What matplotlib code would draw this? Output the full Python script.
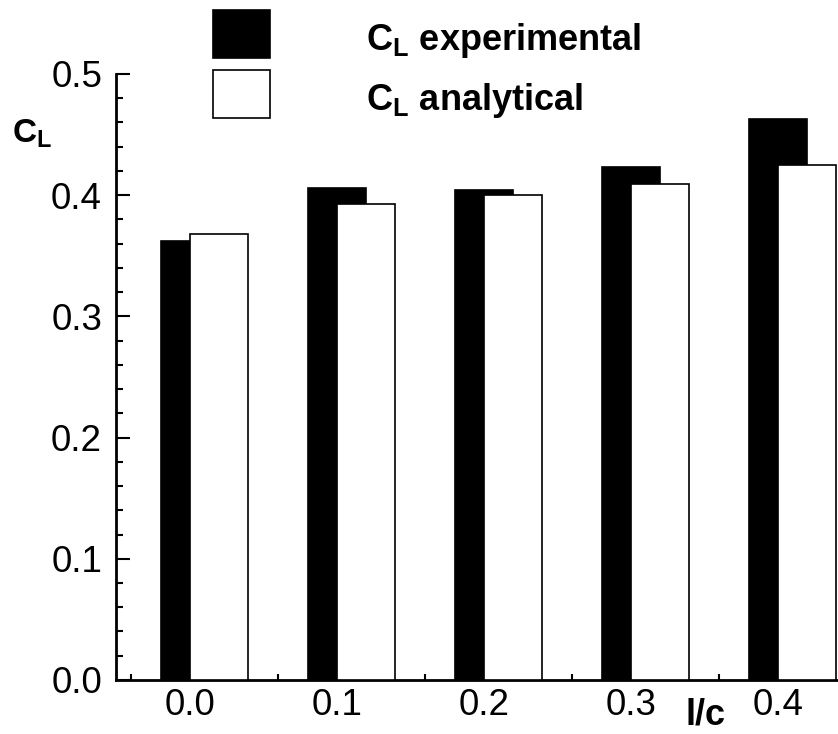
import matplotlib
matplotlib.use('Agg')
import matplotlib.pyplot as plt
from matplotlib.ticker import MultipleLocator, FixedLocator

plt.rcParams['font.family'] = ['Liberation Sans', 'DejaVu Sans']
plt.rcParams['mathtext.fontset'] = 'custom'
plt.rcParams['mathtext.bf'] = 'Liberation Sans:bold'
plt.rcParams['mathtext.rm'] = 'Liberation Sans:bold'

# l/c positions and lift coefficients
lc = [0.0, 0.1, 0.2, 0.3, 0.4]
cl_exp = [0.362, 0.406, 0.404, 0.423, 0.463]
cl_ana = [0.368, 0.393, 0.400, 0.409, 0.425]
lc_minor = [-0.04, 0.06, 0.16, 0.26, 0.36]

w = 0.0395

fig = plt.figure(figsize=(8.38, 7.34), dpi=100)
ax = fig.add_axes([0.1384, 0.0736, 0.8616, 0.8256])

b1 = ax.bar([x - w / 2 for x in lc], cl_exp, width=w, align='edge', color='black',
            edgecolor='black', linewidth=1.2, zorder=2)
b2 = ax.bar(lc, cl_ana, width=w, align='edge', color='white',
            edgecolor='black', linewidth=1.2, zorder=3)

ax.set_xlim(-0.0503, 0.441)
ax.set_ylim(0, 0.5)
for s in ['top', 'right']:
    ax.spines[s].set_visible(False)
for s in ['left', 'bottom']:
    ax.spines[s].set_linewidth(2)

ax.yaxis.set_minor_locator(MultipleLocator(0.02))
ax.set_yticks([0.0, 0.1, 0.2, 0.3, 0.4, 0.5])
ax.set_yticklabels(['0.0', '0.1', '0.2', '0.3', '0.4', '0.5'])
ax.tick_params(axis='y', which='major', direction='in', length=10, width=1.5,
               labelsize=26.5, pad=10)
ax.tick_params(axis='y', which='minor', direction='in', length=5, width=1.5)

ax.set_xticks(lc)
ax.set_xticklabels(['0.0', '0.1', '0.2', '0.3', '0.4'])
ax.xaxis.set_minor_locator(FixedLocator(lc_minor))
ax.tick_params(axis='x', which='major', length=0, labelsize=26.5, pad=6)
ax.tick_params(axis='x', which='minor', direction='in', length=4, width=1.5)

ax.text(0.351, -0.058, 'l/c', transform=ax.get_xaxis_transform(), fontsize=26,
        fontweight='bold', ha='center', va='center')
fig.text(0.014, 0.818, r'$\mathbf{C_L}$', fontsize=24, ha='left', va='center')

leg = fig.legend([b1, b2], [r'$\mathbf{C_L}$ experimental', r'$\mathbf{C_L}$ analytical'],
                 loc='upper left', bbox_to_anchor=(0.2542, 0.9864), frameon=False,
                 prop={'size': 26, 'weight': 'bold'}, handlelength=1.58,
                 handleheight=1.67, handletextpad=2.65, labelspacing=0.33,
                 borderpad=0, borderaxespad=0)
for t in leg.get_texts():
    t.set_y(-4)

fig.savefig('out.png', dpi=100)
